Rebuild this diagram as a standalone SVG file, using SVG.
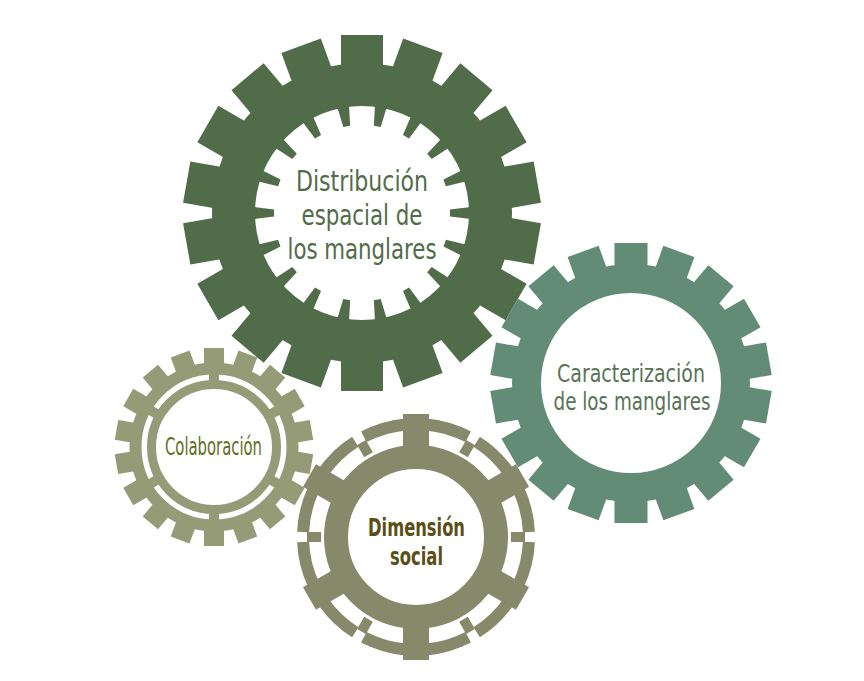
<svg xmlns="http://www.w3.org/2000/svg" width="864" height="681" viewBox="0 0 864 681">
<style>
text { font-family: "DejaVu Sans Condensed", "Liberation Sans", sans-serif; text-anchor: middle; }
.g1 { fill: #506c48; }
.g2 { fill: #638c76; }
.g3 { fill: #959b76; }
.g4 { fill: #878a6a; }
.tx1 { fill: #506c48; font-size: 29px; }
.tx2 { fill: #587355; font-size: 24px; }
.tx3 { fill: #5f6f1c; font-size: 24px; }
.tx4 { fill: #5a4f16; font-size: 24.5px; font-weight: bold; }
</style>
<defs>
  <rect id="t1" x="-21" y="-178" width="42" height="32"/>
  <polygon id="n1" points="-6,-109 6,-109 3.5,-88 -3.5,-88"/>
  <rect id="t2" x="-16.5" y="-140" width="33" height="25"/>
  <rect id="t3" x="-10" y="-99" width="20" height="18"/>
  <rect id="b3" x="-5" y="-75" width="10" height="12"/>
  <g id="u4">
    <rect x="-13" y="-123" width="26" height="36"/>
    <path d="M10.37,-118.55 A119,119 0 0 1 54.95,-105.55 L49.41,-94.91 A107,107 0 0 0 9.33,-106.59 Z"/>
    <path d="M-10.37,-118.55 A119,119 0 0 0 -54.95,-105.55 L-49.41,-94.91 A107,107 0 0 1 -9.33,-106.59 Z"/>
    <rect transform="rotate(30)" x="-5" y="-109" width="10" height="14"/>
  </g>
</defs>

<g id="node-distribucion">
  <g class="g1" transform="translate(362,213)">
    <circle r="128.5" fill="none" stroke="#506c48" stroke-width="43"/>
    <use href="#t1"/>
    <use href="#t1" transform="rotate(20)"/>
    <use href="#t1" transform="rotate(40)"/>
    <use href="#t1" transform="rotate(60)"/>
    <use href="#t1" transform="rotate(80)"/>
    <use href="#t1" transform="rotate(100)"/>
    <use href="#t1" transform="rotate(120)"/>
    <use href="#t1" transform="rotate(140)"/>
    <use href="#t1" transform="rotate(160)"/>
    <use href="#t1" transform="rotate(180)"/>
    <use href="#t1" transform="rotate(200)"/>
    <use href="#t1" transform="rotate(220)"/>
    <use href="#t1" transform="rotate(240)"/>
    <use href="#t1" transform="rotate(260)"/>
    <use href="#t1" transform="rotate(280)"/>
    <use href="#t1" transform="rotate(300)"/>
    <use href="#t1" transform="rotate(320)"/>
    <use href="#t1" transform="rotate(340)"/>
    <use href="#n1" transform="rotate(10)"/>
    <use href="#n1" transform="rotate(30)"/>
    <use href="#n1" transform="rotate(50)"/>
    <use href="#n1" transform="rotate(70)"/>
    <use href="#n1" transform="rotate(90)"/>
    <use href="#n1" transform="rotate(110)"/>
    <use href="#n1" transform="rotate(130)"/>
    <use href="#n1" transform="rotate(150)"/>
    <use href="#n1" transform="rotate(170)"/>
    <use href="#n1" transform="rotate(190)"/>
    <use href="#n1" transform="rotate(210)"/>
    <use href="#n1" transform="rotate(230)"/>
    <use href="#n1" transform="rotate(250)"/>
    <use href="#n1" transform="rotate(270)"/>
    <use href="#n1" transform="rotate(290)"/>
    <use href="#n1" transform="rotate(310)"/>
    <use href="#n1" transform="rotate(330)"/>
    <use href="#n1" transform="rotate(350)"/>
  </g>
  <text class="tx1"><tspan x="362" y="191" textLength="132" lengthAdjust="spacingAndGlyphs">Distribución</tspan><tspan x="362" y="225" textLength="121" lengthAdjust="spacingAndGlyphs">espacial de</tspan><tspan x="362" y="259" textLength="149" lengthAdjust="spacingAndGlyphs">los manglares</tspan></text>
</g>

<g id="node-caracterizacion">
  <g class="g2" transform="translate(631,383)">
    <circle r="104.5" fill="none" stroke="#638c76" stroke-width="29"/>
    <use href="#t2"/>
    <use href="#t2" transform="rotate(20)"/>
    <use href="#t2" transform="rotate(40)"/>
    <use href="#t2" transform="rotate(60)"/>
    <use href="#t2" transform="rotate(80)"/>
    <use href="#t2" transform="rotate(100)"/>
    <use href="#t2" transform="rotate(120)"/>
    <use href="#t2" transform="rotate(140)"/>
    <use href="#t2" transform="rotate(160)"/>
    <use href="#t2" transform="rotate(180)"/>
    <use href="#t2" transform="rotate(200)"/>
    <use href="#t2" transform="rotate(220)"/>
    <use href="#t2" transform="rotate(240)"/>
    <use href="#t2" transform="rotate(260)"/>
    <use href="#t2" transform="rotate(280)"/>
    <use href="#t2" transform="rotate(300)"/>
    <use href="#t2" transform="rotate(320)"/>
    <use href="#t2" transform="rotate(340)"/>
  </g>
  <text class="tx2"><tspan x="631" y="382" textLength="148" lengthAdjust="spacingAndGlyphs">Caracterización</tspan><tspan x="632" y="410" textLength="157" lengthAdjust="spacingAndGlyphs">de los manglares</tspan></text>
</g>

<g id="node-colaboracion">
  <g class="g3" transform="translate(214,447)">
    <circle r="78.5" fill="none" stroke="#959b76" stroke-width="12"/>
    <circle r="62.5" fill="none" stroke="#959b76" stroke-width="9"/>
    <use href="#b3"/>
    <use href="#b3" transform="rotate(60)"/>
    <use href="#b3" transform="rotate(120)"/>
    <use href="#b3" transform="rotate(180)"/>
    <use href="#b3" transform="rotate(240)"/>
    <use href="#b3" transform="rotate(300)"/>
    <use href="#t3"/>
    <use href="#t3" transform="rotate(20)"/>
    <use href="#t3" transform="rotate(40)"/>
    <use href="#t3" transform="rotate(60)"/>
    <use href="#t3" transform="rotate(80)"/>
    <use href="#t3" transform="rotate(100)"/>
    <use href="#t3" transform="rotate(120)"/>
    <use href="#t3" transform="rotate(140)"/>
    <use href="#t3" transform="rotate(160)"/>
    <use href="#t3" transform="rotate(180)"/>
    <use href="#t3" transform="rotate(200)"/>
    <use href="#t3" transform="rotate(220)"/>
    <use href="#t3" transform="rotate(240)"/>
    <use href="#t3" transform="rotate(260)"/>
    <use href="#t3" transform="rotate(280)"/>
    <use href="#t3" transform="rotate(300)"/>
    <use href="#t3" transform="rotate(320)"/>
    <use href="#t3" transform="rotate(340)"/>
  </g>
  <text class="tx3" x="213.5" y="455" textLength="97" lengthAdjust="spacingAndGlyphs">Colaboración</text>
</g>

<g id="node-dimension">
  <g class="g4" transform="translate(416,537)">
    <circle r="80" fill="none" stroke="#878a6a" stroke-width="24"/>
    <use href="#u4"/>
    <use href="#u4" transform="rotate(60)"/>
    <use href="#u4" transform="rotate(120)"/>
    <use href="#u4" transform="rotate(180)"/>
    <use href="#u4" transform="rotate(240)"/>
    <use href="#u4" transform="rotate(300)"/>
  </g>
  <text class="tx4"><tspan x="416.5" y="536" textLength="97" lengthAdjust="spacingAndGlyphs">Dimensión</tspan><tspan x="416.5" y="565" textLength="53" lengthAdjust="spacingAndGlyphs">social</tspan></text>
</g>

<g id="connectors"/>
</svg>
